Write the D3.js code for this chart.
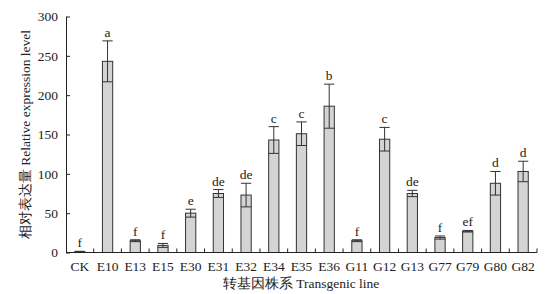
<!DOCTYPE html>
<html>
<head>
<meta charset="utf-8">
<script src="https://d3js.org/d3.v7.min.js"></script>
<style>
  body { margin: 0; background: #fff; }
  svg text { font-family: "Liberation Serif", "Times New Roman", serif; fill: #222; }
</style>
</head>
<body>
<div id="chart"></div>
<script>
// data
const lines   = ["CK", "E10", "E13", "E15", "E30", "E31", "E32", "E34", "E35", "E36", "G11", "G12", "G13", "G77", "G79", "G80", "G82"];
const means   = [1, 243, 15, 9, 50, 75, 73, 143, 151, 186, 15, 144, 75, 19, 27, 88, 103];
const errors  = [0.5, 26, 1.2, 2.5, 5, 5, 15, 17, 15, 28, 1.2, 15, 4, 2, 1, 15, 13];
const letters = ["f", "a", "f", "f", "e", "de", "de", "c", "c", "b", "f", "c", "de", "f", "ef", "d", "d"];
const yTicks  = [0, 50, 100, 150, 200, 250, 300];

const W = 550, H = 294;
const margin = { top: 16.5, right: 13, bottom: 41.5, left: 66 };
const width = W - margin.left - margin.right,
      height = H - margin.top - margin.bottom;

const svg = d3.select("#chart").append("svg")
    .attr("width", W).attr("height", H);
const g = svg.append("g")
    .attr("transform", `translate(${margin.left},${margin.top})`);

const x = d3.scaleBand().domain(lines).range([0, width]).paddingInner(0.63).paddingOuter(0.315);
const y = d3.scaleLinear().domain([0, 300]).range([height, 0]);

// bars
g.selectAll("rect.bar").data(lines).join("rect")
    .attr("class", "bar")
    .attr("x", d => x(d))
    .attr("width", x.bandwidth())
    .attr("y", (d, i) => y(means[i]))
    .attr("height", (d, i) => height - y(means[i]))
    .attr("fill", "#d4d4d4")
    .attr("stroke", "#333")
    .attr("stroke-width", 1);

// error bars
const lo = i => y(Math.max(0, means[i] - errors[i]));
const hi = i => y(means[i] + errors[i]);
const eb = g.selectAll("g.err").data(lines).join("g").attr("class", "err");
eb.append("line")
    .attr("x1", d => x(d) + x.bandwidth() / 2)
    .attr("x2", d => x(d) + x.bandwidth() / 2)
    .attr("y1", (d, i) => lo(i))
    .attr("y2", (d, i) => hi(i))
    .attr("stroke", "#333");
eb.append("line")
    .attr("x1", d => x(d)).attr("x2", d => x(d) + x.bandwidth())
    .attr("y1", (d, i) => hi(i)).attr("y2", (d, i) => hi(i))
    .attr("stroke", "#333");
eb.append("line")
    .attr("x1", d => x(d)).attr("x2", d => x(d) + x.bandwidth())
    .attr("y1", (d, i) => lo(i)).attr("y2", (d, i) => lo(i))
    .attr("stroke", "#333");

// significance letters
g.selectAll("text.sig").data(lines).join("text")
    .attr("class", "sig")
    .attr("x", d => x(d) + x.bandwidth() / 2)
    .attr("y", (d, i) => hi(i) - 4)
    .attr("text-anchor", "middle")
    .style("font-size", "13.5px")
    .text((d, i) => letters[i]);

// y axis
const yAxis = g.append("g")
    .call(d3.axisLeft(y).tickValues(yTicks).tickSizeInner(-4).tickSizeOuter(0).tickPadding(8));
yAxis.select(".domain").attr("stroke", "#222");
yAxis.selectAll(".tick line").attr("stroke", "#222");
yAxis.selectAll("text").style("font-size", "13.5px").attr("fill", "#222");

// x axis with ticks between categories
const xAxis = g.append("g").attr("transform", `translate(0,${height})`);
xAxis.append("line").attr("x1", 0).attr("x2", width).attr("y1", 0).attr("y2", 0).attr("stroke", "#222");
const step = x.step();
xAxis.selectAll("line.sep").data(lines.slice(1)).join("line")
    .attr("class", "sep")
    .attr("x1", d => x(d) - step * 0.315)
    .attr("x2", d => x(d) - step * 0.315)
    .attr("y1", 0).attr("y2", -4)
    .attr("stroke", "#222");
xAxis.append("line").attr("x1", width).attr("x2", width).attr("y1", 0).attr("y2", -4).attr("stroke", "#222");
xAxis.selectAll("text.cat").data(lines).join("text")
    .attr("class", "cat")
    .attr("x", d => x(d) + x.bandwidth() / 2)
    .attr("y", 18)
    .attr("text-anchor", "middle")
    .style("font-size", "13.5px")
    .text(d => d);

// axis titles
svg.append("text")
    .attr("x", 301).attr("y", 288)
    .attr("text-anchor", "middle")
    .style("font-size", "13.5px")
    .text("转基因株系 Transgenic line");
svg.append("text")
    .attr("transform", `translate(30,${margin.top + height / 2}) rotate(-90)`)
    .attr("text-anchor", "middle")
    .style("font-size", "13.5px")
    .text("相对表达量 Relative expression level");
</script>
</body>
</html>
